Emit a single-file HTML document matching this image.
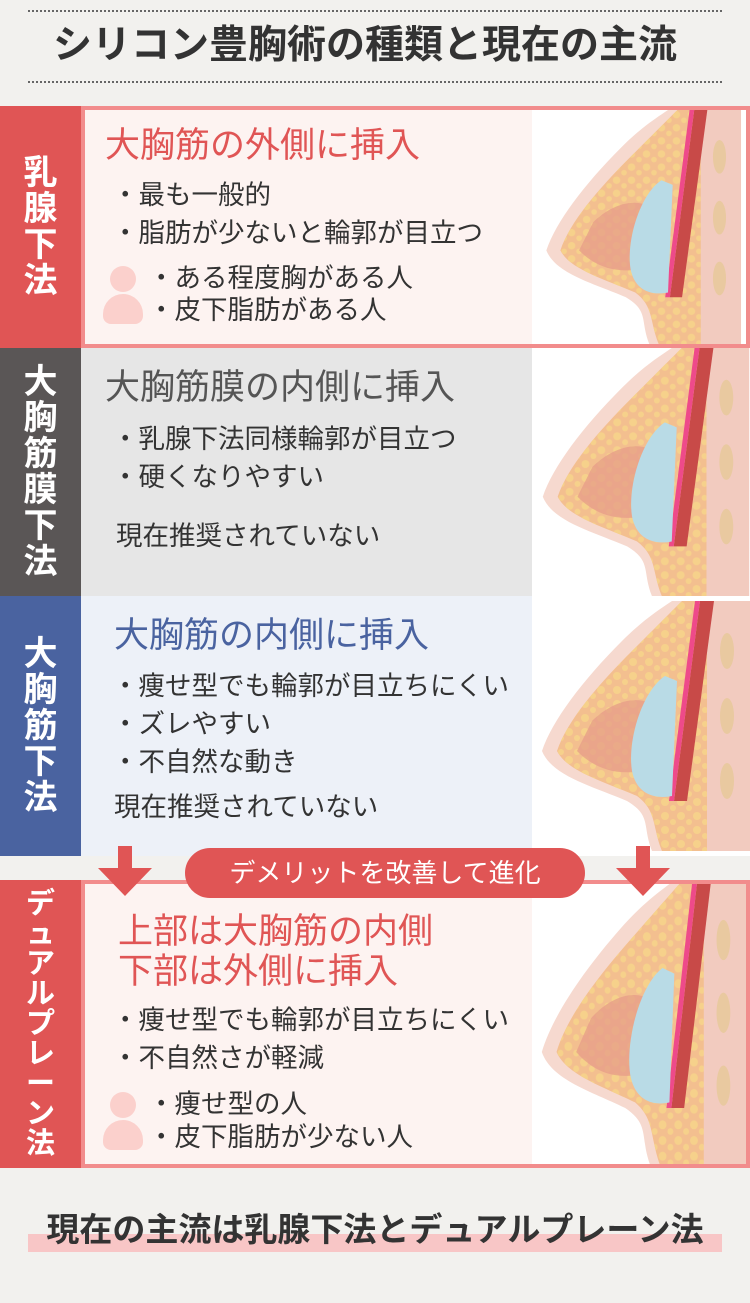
<!DOCTYPE html>
<html><head><meta charset="utf-8"><style>
*{margin:0;padding:0;box-sizing:border-box}
body{width:750px;height:1303px;background:#f2f1ee;font-family:"Liberation Sans","Noto Sans CJK JP",sans-serif;position:relative;overflow:hidden;color:#333}
.a{position:absolute;white-space:nowrap}
.dot{left:28px;width:694px;border-top:2px dotted #666}
.lab{left:0;width:81px;color:#fff;font-weight:bold;font-size:34px;line-height:36px;display:flex;align-items:center;justify-content:center;text-align:center;white-space:normal}
.h{font-size:35px;line-height:40px}
.t{font-size:26.5px;line-height:38px;color:#333}
.img{left:532px;width:218px;background:#fff;overflow:hidden}
</style></head><body>
<svg width="0" height="0" style="position:absolute"><defs>
<pattern id="fd" width="16" height="14" patternUnits="userSpaceOnUse"><circle cx="5" cy="5" r="4" fill="#f7d58a"/><circle cx="13" cy="11" r="3" fill="#f7d58a"/></pattern>
<symbol id="br" viewBox="0 0 218 250">
<rect width="218" height="250" fill="#fff"/>
<path d="M140 0 L218 0 L218 250 L120 250 C110 225 120 215 95 200 C60 185 20 175 10 150 C20 120 50 80 90 40 C110 20 125 10 140 0Z" fill="#f6d9cf"/>
<path d="M150 0 L200 0 L200 250 L130 250 C120 225 125 210 105 195 C70 180 35 170 25 150 C35 120 65 85 100 50 C120 30 135 15 150 0Z" fill="#f3bf8f"/>
<path d="M150 0 L200 0 L200 250 L130 250 C120 225 125 210 105 195 C70 180 35 170 25 150 C35 120 65 85 100 50 C120 30 135 15 150 0Z" fill="url(#fd)" opacity=".8"/>
<path d="M60 120 C80 100 110 90 130 110 L110 170 C80 175 60 165 45 150Z" fill="#e59a88" opacity=".7"/>
<rect x="175" y="0" width="43" height="250" fill="#f2cbbf"/>
<ellipse cx="195" cy="50" rx="7" ry="18" fill="#e9c9a0"/><ellipse cx="195" cy="115" rx="7" ry="18" fill="#e9c9a0"/><ellipse cx="195" cy="180" rx="7" ry="18" fill="#e9c9a0"/>
<path d="M168 0 L182 0 L155 200 L142 200Z" fill="#c84a48"/>
<path d="M163 0 L168 0 L142 200 L137 200Z" fill="#ee4a8a"/>
<path d="M133 75 C110 90 95 140 100 170 C105 195 125 198 140 195 L145 80Z" fill="#b9dbe6"/>
</symbol></defs></svg>

<div class="a dot" style="top:10px"></div>
<div class="a" style="left:0;width:730px;top:22px;text-align:center;font-size:39px;font-weight:bold;color:#333;line-height:48px">シリコン豊胸術の種類と現在の主流</div>
<div class="a dot" style="top:81px"></div>

<!-- 1 -->
<div class="a lab" style="top:106px;height:242px;background:#e05555">乳<br>腺<br>下<br>法</div>
<div class="a" style="left:81px;top:106px;width:669px;height:242px;background:#fdf3f1;border:4px solid #f28c8c"></div>
<div class="a img" style="top:110px;height:234px;width:214px"><svg width="214" height="234"><use href="#br"/></svg></div>
<div class="a h" style="left:105px;top:126px;color:#e05555">大胸筋の外側に挿入</div>
<div class="a t" style="left:112px;top:176px">・最も一般的<br>・脂肪が少ないと輪郭が目立つ</div>
<div class="a t" style="left:148px;top:262px;line-height:32px">・ある程度胸がある人<br>・皮下脂肪がある人</div>
<div class="a" style="left:110px;top:266px;width:26px;height:26px;border-radius:50%;background:#fbd0cc"></div>
<div class="a" style="left:103px;top:294px;width:40px;height:30px;border-radius:20px 20px 8px 8px;background:#fbd0cc"></div>

<!-- 2 -->
<div class="a lab" style="top:348px;height:248px;background:#5a5656">大<br>胸<br>筋<br>膜<br>下<br>法</div>
<div class="a" style="left:81px;top:348px;width:452px;height:248px;background:#e6e6e6"></div>
<div class="a img" style="top:348px;height:248px"><svg width="218" height="248"><use href="#br"/></svg></div>
<div class="a h" style="left:105px;top:368px;color:#555">大胸筋膜の内側に挿入</div>
<div class="a t" style="left:112px;top:420px">・乳腺下法同様輪郭が目立つ<br>・硬くなりやすい</div>
<div class="a t" style="left:116px;top:517px">現在推奨されていない</div>

<!-- 3 -->
<div class="a lab" style="top:596px;height:260px;background:#4a63a0">大<br>胸<br>筋<br>下<br>法</div>
<div class="a" style="left:81px;top:596px;width:452px;height:260px;background:#edf1f8"></div>
<div class="a img" style="top:596px;height:260px"><svg width="218" height="260"><use href="#br"/></svg></div>
<div class="a h" style="left:114px;top:616px;color:#4a63a0">大胸筋の内側に挿入</div>
<div class="a t" style="left:112px;top:667px">・痩せ型でも輪郭が目立ちにくい<br>・ズレやすい<br>・不自然な動き</div>
<div class="a t" style="left:114px;top:788px">現在推奨されていない</div>

<!-- 4 -->
<div class="a lab" style="top:880px;height:288px;background:#e05555;font-size:29px;line-height:30px">デ<br>ュ<br>ア<br>ル<br>プ<br>レ<br>ー<br>ン<br>法</div>
<div class="a" style="left:81px;top:880px;width:669px;height:288px;background:#fdf3f1;border:4px solid #f28c8c"></div>
<div class="a img" style="top:884px;height:280px;width:214px"><svg width="214" height="280" viewBox="0 0 218 250" preserveAspectRatio="none"><use href="#br"/></svg></div>
<div class="a h" style="left:118px;top:912px;color:#e05555;line-height:40px">上部は大胸筋の内側<br>下部は外側に挿入</div>
<div class="a t" style="left:112px;top:1001px">・痩せ型でも輪郭が目立ちにくい<br>・不自然さが軽減</div>
<div class="a t" style="left:148px;top:1088px;line-height:33px">・痩せ型の人<br>・皮下脂肪が少ない人</div>
<div class="a" style="left:110px;top:1092px;width:26px;height:26px;border-radius:50%;background:#fbd0cc"></div>
<div class="a" style="left:103px;top:1120px;width:40px;height:30px;border-radius:20px 20px 8px 8px;background:#fbd0cc"></div>

<!-- arrows & pill -->
<svg class="a" style="left:0;top:846px" width="750" height="52">
<rect x="118" y="0" width="14" height="24" fill="#e05555"/><polygon points="98,22 152,22 125,50" fill="#e05555"/>
<rect x="636" y="0" width="14" height="24" fill="#e05555"/><polygon points="616,22 670,22 643,50" fill="#e05555"/>
</svg>
<div class="a" style="left:185px;top:848px;width:400px;height:50px;border-radius:25px;background:#e05555;color:#fff;font-size:26px;line-height:50px;text-align:center">デメリットを改善して進化</div>

<!-- bottom -->
<div class="a" style="left:28px;top:1234px;width:694px;height:18px;background:#f8c6c6"></div>
<div class="a" style="left:0;width:750px;top:1210px;text-align:center;font-size:33px;font-weight:bold;color:#333;line-height:40px">現在の主流は乳腺下法とデュアルプレーン法</div>
</body></html>
